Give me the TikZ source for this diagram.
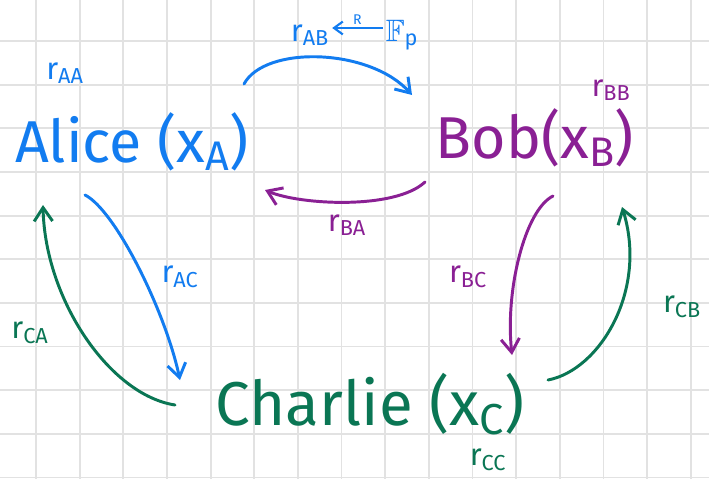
\documentclass[tikz,border=0pt]{standalone}
\usepackage{fix-cm}
\usepackage{amsmath,amssymb}
\usepackage{fontspec}
\setmainfont{Fira Sans}
\usetikzlibrary{arrows.meta}

\definecolor{penblue}{RGB}{18,124,240}
\definecolor{penpurple}{RGB}{138,32,148}
\definecolor{pengreen}{RGB}{10,118,84}
\definecolor{gridgray}{RGB}{226,226,226}

\begin{document}
\begin{tikzpicture}[
  x=0.025cm,y=-0.025cm,
  nm/.style={anchor=base,inner sep=0pt,font=\fontsize{42}{46}\selectfont},
  lab/.style={inner sep=0pt,font=\fontsize{22}{26}\selectfont},
  ar/.style={-{Straight Barb[length=3.4mm,width=4.6mm]},line width=2.1pt,line cap=round}]

 % ---- paper ----
 \fill[white] (0,0) rectangle (709,479);
 \useasboundingbox (0,0) rectangle (709,479);
 \foreach \k in {0,...,15}
   \draw[gridgray,line width=1.3pt] ({36+43.65*\k},0) -- ++(0,479);
 \foreach \k in {0,...,10}
   \draw[gridgray,line width=1.3pt] (0,{41+43.65*\k}) -- ++(709,0);

 % ---- parties ----
 \node[nm,penblue] (alice) at (132,162) {Alice (x\textsubscript{A})};
 \node[nm,penpurple] (bob) at (535,158) {Bob(x\textsubscript{B})};
 \node[nm,pengreen,font=\fontsize{44}{48}\selectfont] (charlie) at (370,425) {Charlie (x\textsubscript{C})};

 % ---- own shares ----
 \node[lab,penblue] (raa) at (65,73) {r\textsubscript{AA}};
 \node[lab,penpurple] (rbb) at (611,90) {r\textsubscript{BB}};
 \node[lab,pengreen] (rcc) at (488,460) {r\textsubscript{CC}};

 % ---- end points ----
 \coordinate (ab0) at (244,84);  \coordinate (ab1) at (412,95);
 \coordinate (ba0) at (425,182); \coordinate (ba1) at (265,190);
 \coordinate (ac0) at (85,195);  \coordinate (ac1) at (180,380);
 \coordinate (ca0) at (175,405); \coordinate (ca1) at (43,205);
 \coordinate (bc0) at (553,196); \coordinate (bc1) at (512,355);
 \coordinate (cb0) at (548,380); \coordinate (cb1) at (622,207);

 % ---- sampling ----
 \node[lab,penblue] (rab) at (310,35) {r\textsubscript{AB}};
 \node[lab,penblue] (fp) at (402,35) {$\mathbb{F}$\textsubscript{p}};
 \draw[penblue,line width=1.5pt,-{Straight Barb[length=2.2mm,width=3.2mm]},shorten <=2pt,shorten >=2pt]
   (fp.west |- 0,28) -- node[above=2pt,font=\fontsize{10}{12}\selectfont,inner sep=0pt] (rr) {R} (rab.east |- 0,28);

 % ---- sent shares ----
 \draw[ar,penblue] (ab0) .. controls (265,45) and (370,48) .. (ab1);
 \draw[ar,penpurple] (ba0) .. controls (395,210) and (300,205) .. (ba1);
 \node[lab,penpurple] (rba) at (347,225) {r\textsubscript{BA}};
 \draw[ar,penblue] (ac0) .. controls (115,210) and (165,310) .. (ac1);
 \node[lab,penblue] (rac) at (180,277) {r\textsubscript{AC}};
 \draw[ar,pengreen] (ca0) .. controls (110,395) and (45,300) .. (ca1);
 \node[lab,pengreen] (rca) at (30,333) {r\textsubscript{CA}};
 \draw[ar,penpurple] (bc0) .. controls (525,210) and (505,290) .. (bc1);
 \node[lab,penpurple] (rbc) at (468,277) {r\textsubscript{BC}};
 \draw[ar,pengreen] (cb0) .. controls (600,370) and (648,290) .. (cb1);
 \node[lab,pengreen] (rcb) at (682,307) {r\textsubscript{CB}};
\end{tikzpicture}
\end{document}
